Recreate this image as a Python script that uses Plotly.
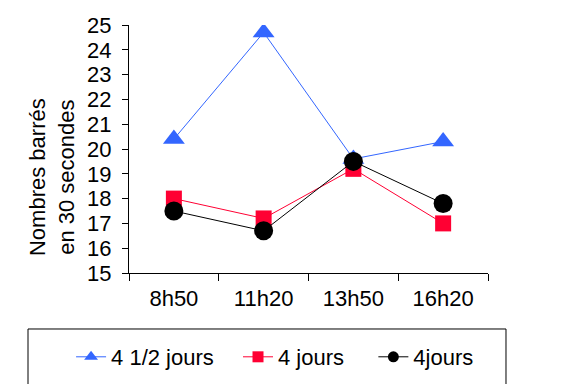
import plotly.graph_objects as go

categories = ["8h50", "11h20", "13h50", "16h20"]
series_names = ["4 1/2 jours", "4 jours", "4jours"]
vals_4demi = [20.4, 24.7, 19.6, 20.3]
vals_4 = [18.0, 17.2, 19.2, 17.0]
vals_4b = [17.5, 16.7, 19.5, 17.8]
y_ticks = list(range(15, 26))

FONT = "Liberation Sans, Arial, sans-serif"
FS = 22

series = [
    (series_names[0], vals_4demi, "#3366FF", "triangle-up", 19, 12, "legend"),
    (series_names[1], vals_4, "#FF0033", "square", 16, 11, "legend2"),
    (series_names[2], vals_4b, "black", "circle", 19, 11, "legend3"),
]

fig = go.Figure()
for name, vals, color, symbol, size, lsize, leg in series:
    fig.add_trace(go.Scatter(x=categories, y=vals, name=name, mode="lines+markers",
                             line=dict(color=color, width=1),
                             marker=dict(symbol=symbol, size=size, color=color),
                             showlegend=False))
for name, vals, color, symbol, size, lsize, leg in series:
    # legend proxy with smaller symbol (no visible data)
    fig.add_trace(go.Scatter(x=[None], y=[None], name=name, mode="lines+markers",
                             line=dict(color=color, width=1),
                             marker=dict(symbol=symbol, size=lsize, color=color),
                             showlegend=True, legend=leg))

leg_common = dict(orientation="h", yanchor="middle", xanchor="left",
                  xref="container", yref="container",
                  font=dict(family=FONT, size=FS, color="black"),
                  bgcolor="rgba(0,0,0,0)", itemwidth=30)

fig.update_layout(
    width=564, height=384,
    showlegend=True,
    margin=dict(l=129, r=76, t=25, b=111),
    paper_bgcolor="white", plot_bgcolor="white",
    font=dict(family=FONT, size=FS, color="black"),
    legend=dict(x=0.126, y=0.0703, **leg_common),
    legend2=dict(x=0.422, y=0.0703, **leg_common),
    legend3=dict(x=0.662, y=0.0703, **leg_common),
    xaxis=dict(type="category", range=[-0.5, 3.5], tickson="boundaries",
               showline=True, linecolor="black", linewidth=1,
               ticks="outside", ticklen=7, tickcolor="black", ticklabelstandoff=6,
               showgrid=False, zeroline=False, automargin=False,
               tickfont=dict(family=FONT, size=FS, color="black")),
    yaxis=dict(range=[15, 25], tickvals=y_ticks, showline=True, linecolor="black", linewidth=1,
               ticks="outside", ticklen=6, tickcolor="black", ticklabelstandoff=6,
               showgrid=False, zeroline=False, automargin=False,
               tickfont=dict(family=FONT, size=FS, color="black")),
    shapes=[dict(type="rect", xref="paper", yref="paper", x0=-0.2813, x1=1.0501,
                 y0=-0.2258, y1=-0.52, line=dict(color="black", width=1), fillcolor="rgba(0,0,0,0)")],
    annotations=[dict(text="Nombres barrés<br>en 30 secondes", textangle=-90, xref="paper", yref="paper",
                      x=-0.2145, y=0.387, xanchor="center", yanchor="middle", showarrow=False,
                      font=dict(family=FONT, size=FS, color="black"))],
)

fig.write_html("out.html", config={"displayModeBar": False},
               post_script="document.body.style.margin='0';")
